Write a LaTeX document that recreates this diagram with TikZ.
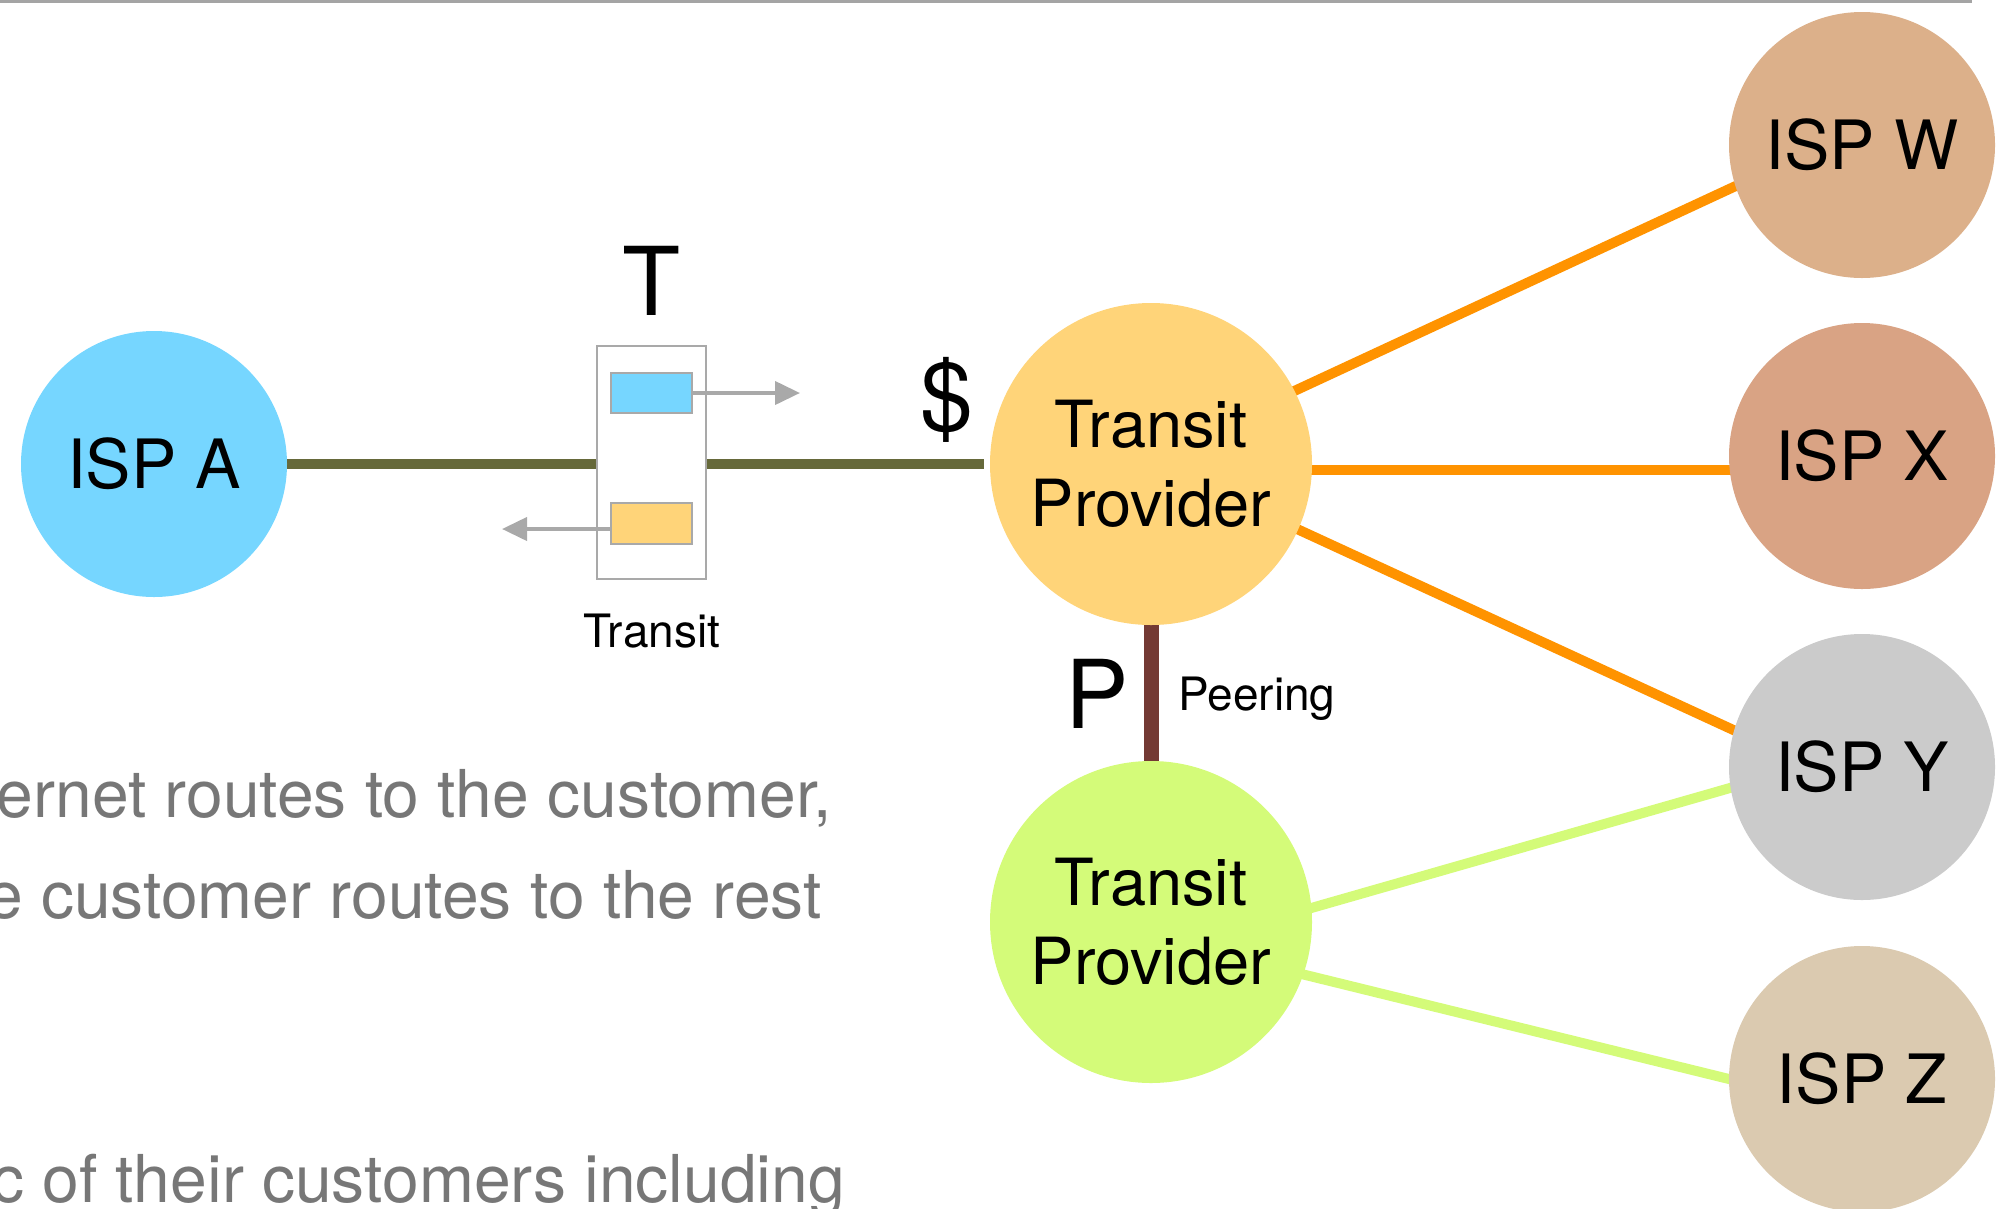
\documentclass[tikz,border=0pt]{standalone}
\usepackage{fontspec}
\setmainfont{TeX Gyre Heros}
\usetikzlibrary{arrows.meta,backgrounds}

\definecolor{skyblue}{HTML}{76D6FF}
\definecolor{cantaloupe}{HTML}{FFD479}
\definecolor{honeydew}{HTML}{D4FB79}
\definecolor{ispwfill}{HTML}{DCB08A}
\definecolor{ispxfill}{HTML}{D9A384}
\definecolor{ispyfill}{HTML}{CBCBCB}
\definecolor{ispzfill}{HTML}{DBCAB0}
\definecolor{tangerine}{HTML}{FF9300}
\definecolor{olivelink}{HTML}{66693A}
\definecolor{peerbrown}{HTML}{743A34}
\definecolor{boxgray}{HTML}{A9A9A9}
\definecolor{bodygray}{HTML}{777777}
\definecolor{rulegray}{HTML}{A4A4A4}

\begin{document}
\begin{tikzpicture}[x=1pt,y=-1pt,
  isp/.style={circle,inner sep=0pt,outer sep=0pt,minimum size=266pt,
    font=\fontsize{68}{80}\selectfont},
  provider/.style={circle,inner sep=0pt,outer sep=0pt,minimum size=322pt,
    align=center,font=\fontsize{65}{79}\selectfont},
  bigletter/.style={inner sep=0pt,font=\fontsize{95}{110}\selectfont},
  smalllabel/.style={inner sep=0pt,font=\fontsize{46}{55}\selectfont},
  bodytext/.style={inner sep=0pt,text=bodygray,font=\fontsize{66}{80}\selectfont},
  queue/.style={draw=boxgray,line width=2pt,inner sep=0pt,minimum width=81pt,minimum height=41pt},
  routearrow/.style={draw=boxgray,line width=4pt,-{Triangle[length=25pt,width=23pt]}},
  customerlink/.style={draw=olivelink,line width=10pt},
  peerlink/.style={draw=peerbrown,line width=15pt},
  upstreamlink/.style={draw=tangerine,line width=10pt,shorten <=-6pt,shorten >=-6pt},
  lowerlink/.style={draw=honeydew,line width=10pt,shorten <=-6pt,shorten >=-6pt}
]
\useasboundingbox (0,0) rectangle (2009,1208);
\clip (0,0) rectangle (2009,1208);

% header rule
\coordinate (ruleL) at (0,1.5);
\coordinate (ruleR) at (1972,1.5);
\draw[rulegray,line width=3pt] (ruleL) -- (ruleR);

% networks
\node[isp,fill=skyblue] (ispA) at (154,464) {ISP A};
\node[provider,fill=cantaloupe] (tp1) at (1151,464) {Transit\\Provider};
\node[provider,fill=honeydew] (tp2) at (1151,922) {Transit\\Provider};
\node[isp,fill=ispwfill] (ispW) at (1862,145) {ISP W};
\node[isp,fill=ispxfill] (ispX) at (1862,456) {ISP X};
\node[isp,fill=ispyfill] (ispY) at (1862,767) {ISP Y};
\node[isp,fill=ispzfill] (ispZ) at (1862,1079) {ISP Z};

% transit relationship box with its two route queues
\node[draw=boxgray,line width=2pt,fill=white,inner sep=0pt,
      minimum width=109pt,minimum height=233pt] (tbox) at (651.5,462.5) {};
\node[queue,fill=skyblue,minimum height=40pt] (outq) at (651.5,393) {};
\node[queue,fill=cantaloupe] (inq) at (651.5,523.5) {};
\coordinate (outtip) at (800,393);
\coordinate (intip) at (502,529);
\draw[routearrow] (outq.east) -- (outtip);
\draw[routearrow] ([yshift=-5.5pt]inq.west) -- (intip);

% links, kept underneath the circles
\begin{scope}[on background layer]
  \draw[customerlink,shorten >=6pt] (ispA.east) -- (tp1.west);
  \draw[peerlink] (tp1.south) -- (tp2.north);
  \draw[upstreamlink] (tp1.27.4) -- (ispW.198.7);
  \draw[upstreamlink] ([yshift=-6pt]tp1.east) -- ([yshift=-6pt]tp1.east -| ispX.west);
  \draw[upstreamlink] (tp1.336.3) -- (ispY.164.8);
  \draw[lowerlink] (tp2.5.4) -- (ispY.189.9);
  \draw[lowerlink] (tp2.341.5) -- (ispZ.180);
\end{scope}

% labels
\node[bigletter,anchor=base] (tlabel) at (652,315) {T};
\node[bigletter,anchor=base] (dollar) at (947,430) {\$};
\node[smalllabel,anchor=base] (transitlabel) at (652,647) {Transit};
\node[bigletter,anchor=base] (plabel) at (1097,728) {P};
\node[smalllabel,anchor=base west] (peerlabel) at (1178,710) {Peering};

% body text running in from the left
\node[bodytext,anchor=base east] (body1) at (832,817) {ernet routes to the customer,};
\node[bodytext,anchor=base east] (body2) at (822,918) {e customer routes to the rest};
\node[bodytext,anchor=base east] (body3) at (845,1202) {c of their customers including};
\end{tikzpicture}
\end{document}
